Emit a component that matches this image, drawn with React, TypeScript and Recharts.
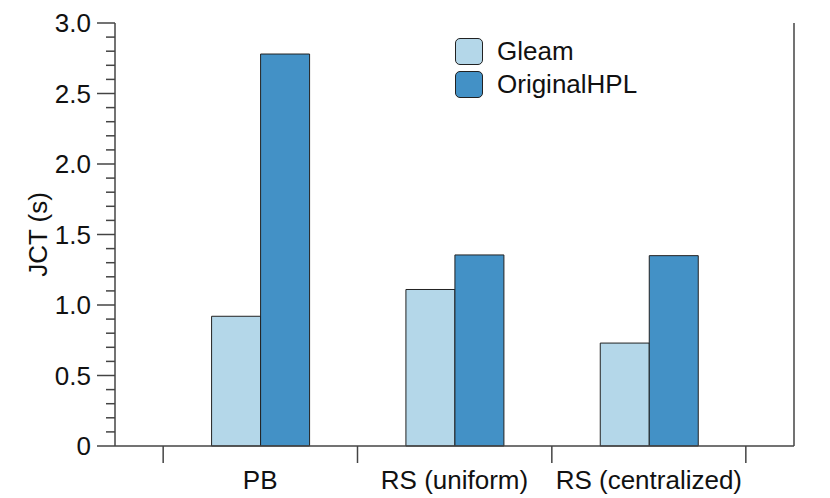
import { BarChart, Bar, XAxis, YAxis } from 'recharts';

const categories = ['PB', 'RS (uniform)', 'RS (centralized)'];
const gleam = [0.92, 1.11, 0.73];
const originalHPL = [2.78, 1.355, 1.35];
const majorTicks = [0, 0.5, 1.0, 1.5, 2.0, 2.5, 3.0];
const minorTicks = [0.1, 0.2, 0.3, 0.4, 0.6, 0.7, 0.8, 0.9, 1.1, 1.2, 1.3, 1.4, 1.6, 1.7, 1.8, 1.9, 2.1, 2.2, 2.3, 2.4, 2.6, 2.7, 2.8, 2.9];

const chartData = categories.map((name, i) => ({ name, Gleam: gleam[i], OriginalHPL: originalHPL[i] }));
const allTicks = [...majorTicks, ...minorTicks].sort((a, b) => a - b);

const FONT = '"Liberation Sans", Arial, Helvetica, sans-serif';
const AXIS = '#444';
const BAND = 194;
const FS = 26;

const YTick = (props: any) => {
  const { x, y, payload } = props;
  const v = payload.value as number;
  const major = majorTicks.some((m) => Math.abs(m - v) < 1e-6);
  return (
    <g>
      <line x1={x - (major ? 18 : 9)} x2={x} y1={y} y2={y} stroke={AXIS} strokeWidth={1.5} />
      {major && (
        <text x={x - 24} y={y} dy={9} textAnchor="end" fontSize={FS} fill="#111" fontFamily={FONT}>
          {v === 0 ? '0' : v.toFixed(1)}
        </text>
      )}
    </g>
  );
};

const XTick = (props: any) => {
  const { x, y, payload, index } = props;
  return (
    <g>
      <line x1={x - BAND / 2} x2={x - BAND / 2} y1={y} y2={y + 17} stroke={AXIS} strokeWidth={1.5} />
      {index === categories.length - 1 && (
        <line x1={x + BAND / 2} x2={x + BAND / 2} y1={y} y2={y + 17} stroke={AXIS} strokeWidth={1.5} />
      )}
      <text x={x} y={y + 43} textAnchor="middle" fontSize={FS} fill="#111" fontFamily={FONT}>
        {payload.value}
      </text>
    </g>
  );
};

const legendItems = [
  { label: 'Gleam', color: '#b4d7e9' },
  { label: 'OriginalHPL', color: '#4391c6' },
];

export default function App() {
  return (
    <div style={{ position: 'absolute', left: 0, top: 0, width: 830, height: 498, background: '#fff' }}>
      <BarChart
        width={830}
        height={498}
        data={chartData}
        margin={{ top: 23, right: 35, left: 0, bottom: 0 }}
        barCategoryGap="25%"
        barGap={0}
      >
        <XAxis
          dataKey="name"
          height={52}
          padding={{ left: 48, right: 48 }}
          axisLine={{ stroke: AXIS, strokeWidth: 1.5 }}
          tickLine={false}
          tickSize={0}
          tickMargin={0}
          tick={<XTick />}
          interval={0}
        />
        <XAxis
          xAxisId="top"
          dataKey="name"
          orientation="top"
          height={0}
          tick={false}
          tickLine={false}
          axisLine={{ stroke: AXIS, strokeWidth: 1.5 }}
        />
        <YAxis
          width={115}
          domain={[0, 3]}
          ticks={allTicks}
          interval={0}
          axisLine={{ stroke: AXIS, strokeWidth: 1.5 }}
          tickLine={false}
          tickSize={0}
          tickMargin={0}
          tick={<YTick />}
          label={{
            value: 'JCT (s)',
            angle: -90,
            position: 'insideLeft',
            offset: 38,
            style: { fontSize: FS, fill: '#111', fontFamily: FONT, textAnchor: 'middle' },
          }}
        />
        <YAxis
          yAxisId="right"
          orientation="right"
          width={1}
          domain={[0, 3]}
          tick={false}
          tickLine={false}
          axisLine={{ stroke: AXIS, strokeWidth: 1.5 }}
        />
        <Bar dataKey="Gleam" fill="#b4d7e9" stroke="#222" strokeWidth={1} isAnimationActive={false} />
        <Bar dataKey="OriginalHPL" fill="#4391c6" stroke="#222" strokeWidth={1} isAnimationActive={false} />
      </BarChart>
      <div
        style={{
          position: 'absolute',
          left: 455,
          top: 35,
          fontFamily: FONT,
          fontSize: FS,
          color: '#111',
          lineHeight: '33px',
        }}
      >
        {legendItems.map((e) => (
          <div key={e.label} style={{ display: 'flex', alignItems: 'center' }}>
            <span
              style={{
                display: 'inline-block',
                width: 28,
                height: 27,
                background: e.color,
                border: '1px solid #222',
                borderRadius: 5,
                boxSizing: 'border-box',
                marginRight: 14,
              }}
            />
            {e.label}
          </div>
        ))}
      </div>
    </div>
  );
}
